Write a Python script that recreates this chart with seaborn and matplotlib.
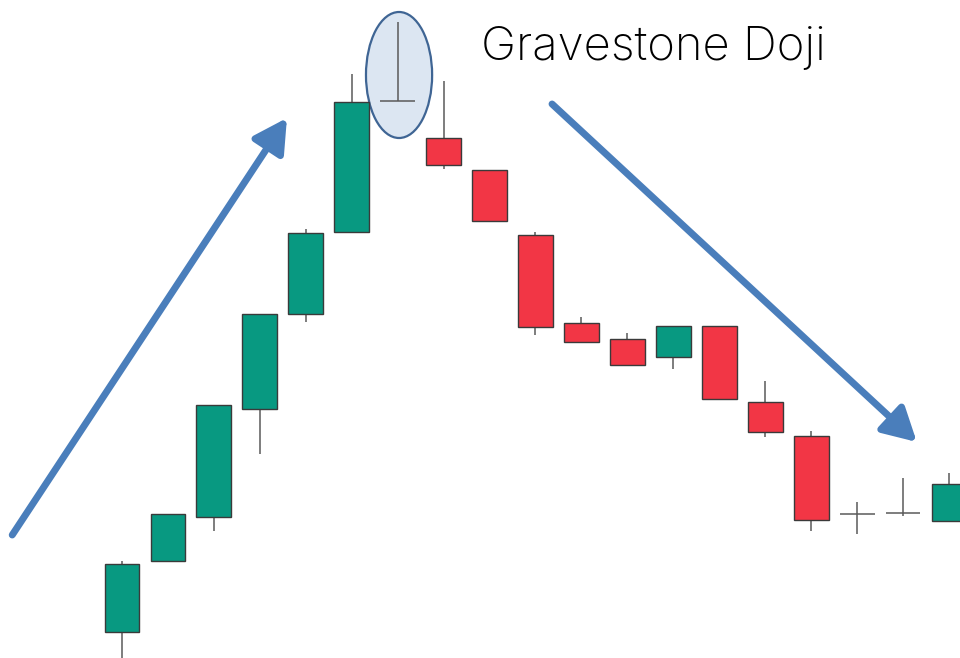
import matplotlib.pyplot as plt
import seaborn as sns
from matplotlib.patches import Ellipse

sns.set_theme(style="white")
plt.rcParams['font.family'] = ['Inter', 'DejaVu Sans']

# candle data (arbitrary price units)
opens = [2.6, 9.7, 14.1, 24.9, 34.4, 42.6, 55.7, 52.0, 48.8, 42.3,
         33.5, 31.9, 30.1, 33.2, 25.6, 22.2, 14.4, 14.5, 13.7]
highs = [9.7, 14.4, 25.3, 34.4, 42.9, 58.4, 63.6, 57.7, 48.8, 42.6,
         34.1, 32.5, 33.2, 33.2, 27.7, 22.7, 15.6, 18.0, 18.5]
lows = [0.0, 9.7, 12.7, 20.4, 33.6, 42.6, 55.7, 48.9, 43.7, 32.3,
        31.6, 29.3, 28.9, 25.9, 22.1, 12.7, 12.4, 14.2, 13.7]
closes = [9.4, 14.4, 25.3, 34.4, 42.5, 55.6, 55.7, 49.3, 43.7, 33.1,
          31.6, 29.3, 33.2, 25.9, 22.6, 13.8, 14.4, 14.5, 17.4]

up_color = '#089981'
down_color = '#f23645'
wick_color = '#5a5a5a'
arrow_color = '#4a7ebb'

fig = plt.figure(figsize=(9.6, 6.58), dpi=100)
ax = fig.add_axes([0, 0, 1, 1])

x = list(range(len(opens)))
body_w = 0.76
for i in x:
    o, h, l, c = opens[i], highs[i], lows[i], closes[i]
    ax.vlines(i, l, h, color=wick_color, lw=1.1, zorder=1)
    if abs(c - o) < 0.05:
        # doji: only a horizontal tick
        ax.hlines(o, i - body_w / 2, i + body_w / 2, color=wick_color, lw=1.1, zorder=2)
    else:
        col = up_color if c > o else down_color
        ax.bar(i, abs(c - o), bottom=min(o, c), width=body_w, color=col,
               edgecolor='#3a3a3a', linewidth=1.0, zorder=3)

# highlight the gravestone doji
ell = Ellipse((6.03, 58.3), 1.44, 12.6, facecolor='#dce6f2', edgecolor='#3f6594',
              linewidth=1.6, zorder=0.5)
ax.add_patch(ell)

# trend arrows
arrow_kw = dict(arrowstyle='-|>,head_length=1.0,head_width=0.55', color=arrow_color,
                lw=5, mutation_scale=20, shrinkA=0, shrinkB=0)
ax.annotate('', xy=(3.59, 54.0), xytext=(-2.39, 12.3), arrowprops=arrow_kw, zorder=4)
ax.annotate('', xy=(17.30, 21.6), xytext=(9.36, 55.4), arrowprops=arrow_kw, zorder=4)

ax.text(7.82, 59.8, 'Gravestone Doji', fontsize=34, fontweight='light',
        color='#000000', ha='left', va='baseline')

ax.set_xlim(-2.656, 18.24)
ax.set_ylim(0, 65.8)
ax.axis('off')

fig.savefig('out.png', dpi=100, facecolor='white')
